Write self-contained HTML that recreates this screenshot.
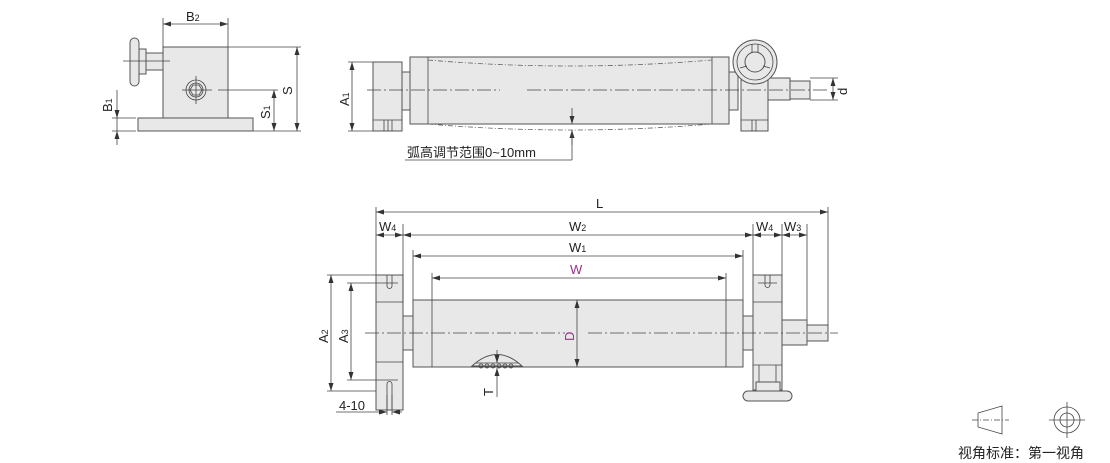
<!DOCTYPE html>
<html><head><meta charset="utf-8"><style>
body{margin:0;background:#fff;}
svg{display:block;}
text{font-family:"Liberation Sans","Noto Sans CJK SC",sans-serif;fill:#222;}
.s{fill:#e8e8e8;stroke:#555;stroke-width:1;}
.l{stroke:#444;stroke-width:0.8;fill:none;}
.c{stroke:#444;stroke-width:0.8;fill:none;stroke-dasharray:14,3,2,3;}
.d{stroke:#666;stroke-width:0.8;fill:none;stroke-dasharray:5,2,1,2;}
</style></head><body>
<svg width="1110" height="463" viewBox="0 0 1110 463" xmlns="http://www.w3.org/2000/svg">
<defs>
<marker id="a" markerWidth="8" markerHeight="6" refX="8" refY="3" orient="auto-start-reverse" markerUnits="userSpaceOnUse"><path d="M0,0.5 L8,3 L0,5.5z" fill="#333"/></marker>
</defs>
<!-- ===== Side view top-left ===== -->
<rect class="s" x="146" y="53" width="17" height="17"/>
<rect class="s" x="138" y="49" width="8" height="25"/>
<rect class="s" x="130" y="38" width="9" height="48" rx="4.5"/>
<rect class="s" x="163" y="47" width="65" height="72"/>
<rect class="s" x="138" y="118" width="115" height="13"/>
<line class="l" x1="123" y1="61" x2="170" y2="61"/>
<circle class="l" cx="196" cy="90" r="10"/>
<circle class="l" cx="196" cy="90" r="7"/>
<polygon class="l" points="202,90 199,95 193,95 190,90 193,85 199,85"/>
<line class="l" x1="182" y1="90" x2="212" y2="90"/><line class="l" x1="196" y1="76" x2="196" y2="104"/>
<line class="l" x1="218" y1="90" x2="278" y2="90"/>
<!-- B2 -->
<line class="l" x1="163" y1="47" x2="163" y2="18"/><line class="l" x1="228" y1="47" x2="228" y2="18"/>
<line class="l" x1="163" y1="24" x2="228" y2="24" marker-start="url(#a)" marker-end="url(#a)"/>
<text x="186" y="21" font-size="13">B<tspan font-size="9">2</tspan></text>
<!-- S -->
<line class="l" x1="228" y1="47" x2="301" y2="47"/><line class="l" x1="253" y1="131" x2="301" y2="131"/>
<line class="l" x1="297" y1="47" x2="297" y2="131" marker-start="url(#a)" marker-end="url(#a)"/>
<text transform="translate(292,95) rotate(-90)" font-size="13">S</text>
<!-- S1 -->
<line class="l" x1="274" y1="90" x2="274" y2="131" marker-start="url(#a)" marker-end="url(#a)"/>
<text transform="translate(270,119) rotate(-90)" font-size="13">S<tspan font-size="9">1</tspan></text>
<!-- B1 -->
<line class="l" x1="112" y1="118" x2="136" y2="118"/><line class="l" x1="112" y1="131" x2="136" y2="131"/>
<line class="l" x1="117" y1="90" x2="117" y2="118" marker-end="url(#a)"/>
<line class="l" x1="117" y1="145" x2="117" y2="131" marker-end="url(#a)"/>
<line class="l" x1="117" y1="118" x2="117" y2="131"/>
<text transform="translate(112,112) rotate(-90)" font-size="13">B<tspan font-size="9">1</tspan></text>
<!-- ===== Top middle view ===== -->
<rect class="s" x="373" y="62" width="29" height="69"/>
<line class="l" x1="373" y1="120" x2="402" y2="120"/>
<line class="l" x1="384" y1="120" x2="384" y2="131"/><line class="l" x1="388" y1="120" x2="388" y2="131"/><line class="l" x1="392" y1="120" x2="392" y2="131"/>
<rect class="s" x="402" y="72" width="8" height="38"/>
<rect class="s" x="410" y="57" width="319" height="67"/>
<line class="l" x1="428" y1="57" x2="428" y2="124"/><line class="l" x1="712" y1="57" x2="712" y2="124"/>
<path class="d" d="M428,60 Q570,72 712,60"/>
<path class="d" d="M428,124 Q570,136 712,124"/>
<rect class="s" x="729" y="72" width="9" height="38"/>
<rect class="s" x="741" y="80" width="27" height="51"/>
<line class="l" x1="741" y1="120" x2="768" y2="120"/>
<line class="l" x1="752" y1="120" x2="752" y2="131"/><line class="l" x1="756" y1="120" x2="756" y2="131"/>
<rect class="s" x="768" y="78" width="22" height="22"/>
<rect class="s" x="790" y="81" width="20" height="18"/>
<circle class="s" cx="755" cy="62" r="22"/>
<circle class="l" cx="755" cy="62" r="18"/>
<circle class="s" cx="755" cy="62" r="10"/>
<line class="l" x1="752" y1="44" x2="752" y2="53"/><line class="l" x1="758" y1="44" x2="758" y2="53"/>
<line class="l" x1="740" y1="68" x2="747" y2="66"/><line class="l" x1="770" y1="68" x2="763" y2="66"/>
<line class="c" x1="367" y1="90" x2="500" y2="90"/>
<line class="c" x1="527" y1="90" x2="830" y2="90"/>
<!-- A1 -->
<line class="l" x1="348" y1="62" x2="373" y2="62"/><line class="l" x1="348" y1="131" x2="373" y2="131"/>
<line class="l" x1="352" y1="62" x2="352" y2="131" marker-start="url(#a)" marker-end="url(#a)"/>
<text transform="translate(349,106) rotate(-90)" font-size="13">A<tspan font-size="9">1</tspan></text>
<!-- d -->
<line class="l" x1="810" y1="78" x2="838" y2="78"/><line class="l" x1="810" y1="100" x2="838" y2="100"/>
<line class="l" x1="833" y1="78" x2="833" y2="100" marker-start="url(#a)" marker-end="url(#a)"/>
<text transform="translate(847,95) rotate(-90)" font-size="13">d</text>
<!-- arc range -->
<line class="l" x1="572" y1="108" x2="572" y2="124" marker-end="url(#a)"/>
<line class="l" x1="572" y1="145" x2="572" y2="130" marker-end="url(#a)"/>
<line class="l" x1="572" y1="130" x2="572" y2="160"/>
<line class="l" x1="405" y1="160" x2="572" y2="160"/>
<text x="407" y="157" font-size="13">弧高调节范围0~10mm</text>
<!-- ===== Bottom view ===== -->
<rect class="s" x="376" y="275" width="27" height="135"/>
<line class="l" x1="376" y1="302" x2="403" y2="302"/><line class="l" x1="376" y1="362" x2="403" y2="362"/>
<path class="l" d="M387,275 V286 A2.5,2.5 0 0 0 392,286 V275"/>
<path class="l" d="M387,410 V384 A2.5,2.5 0 0 1 392,384 V410"/>
<line class="l" x1="381" y1="283" x2="398" y2="283"/><line class="l" x1="381" y1="380" x2="398" y2="380"/>
<rect class="s" x="403" y="316" width="10" height="34"/>
<rect class="s" x="413" y="300" width="330" height="67"/>
<line class="l" x1="432" y1="300" x2="432" y2="367"/><line class="l" x1="726" y1="300" x2="726" y2="367"/>
<rect class="s" x="743" y="316" width="10" height="34"/>
<rect class="s" x="753" y="275" width="29" height="115"/>
<line class="l" x1="753" y1="302" x2="782" y2="302"/><line class="l" x1="753" y1="365" x2="782" y2="365"/>
<path class="l" d="M765,275 V285 A2.5,2.5 0 0 0 770,285 V275"/>
<line class="l" x1="758" y1="283" x2="777" y2="283"/>
<line class="l" x1="759" y1="365" x2="759" y2="384"/><line class="l" x1="776" y1="365" x2="776" y2="384"/>
<rect class="s" x="756" y="382" width="24" height="10"/>
<rect class="s" x="743" y="391" width="49" height="10" rx="5"/>
<rect class="s" x="782" y="320" width="25" height="25"/>
<rect class="s" x="807" y="325" width="21" height="16"/>
<line class="c" x1="365" y1="333" x2="565" y2="333"/>
<line class="c" x1="588" y1="333" x2="838" y2="333"/>
<!-- T mark -->
<path class="s" d="M472,366 Q497,343 522,366z"/>
<line class="l" x1="476" y1="363" x2="518" y2="363"/>
<g class="l"><circle cx="481" cy="366" r="2"/><circle cx="487" cy="366" r="2"/><circle cx="493" cy="366" r="2"/><circle cx="499" cy="366" r="2"/><circle cx="505" cy="366" r="2"/><circle cx="511" cy="366" r="2"/></g>
<line class="l" x1="497" y1="350" x2="497" y2="363" marker-end="url(#a)"/>
<line class="l" x1="497" y1="397" x2="497" y2="368" marker-end="url(#a)"/>
<text transform="translate(493,396) rotate(-90)" font-size="13">T</text>
<!-- D -->
<line class="l" x1="577" y1="300" x2="577" y2="367" marker-start="url(#a)" marker-end="url(#a)"/>
<text transform="translate(574,341) rotate(-90)" font-size="13" style="fill:#9b2f8c">D</text>
<!-- horizontal dims -->
<line class="l" x1="376" y1="275" x2="376" y2="207"/>
<line class="l" x1="828" y1="325" x2="828" y2="207"/>
<line class="l" x1="376" y1="212" x2="828" y2="212" marker-start="url(#a)" marker-end="url(#a)"/>
<text x="596" y="208" font-size="13">L</text>
<line class="l" x1="403" y1="302" x2="403" y2="224"/>
<line class="l" x1="753" y1="275" x2="753" y2="224"/>
<line class="l" x1="782" y1="275" x2="782" y2="224"/>
<line class="l" x1="807" y1="320" x2="807" y2="224"/>
<line class="l" x1="376" y1="235" x2="403" y2="235" marker-start="url(#a)" marker-end="url(#a)"/>
<line class="l" x1="403" y1="235" x2="753" y2="235" marker-start="url(#a)" marker-end="url(#a)"/>
<line class="l" x1="753" y1="235" x2="782" y2="235" marker-start="url(#a)" marker-end="url(#a)"/>
<line class="l" x1="782" y1="235" x2="807" y2="235" marker-start="url(#a)" marker-end="url(#a)"/>
<text x="379" y="231" font-size="13">W<tspan font-size="9">4</tspan></text>
<text x="569" y="231" font-size="13">W<tspan font-size="9">2</tspan></text>
<text x="756" y="231" font-size="13">W<tspan font-size="9">4</tspan></text>
<text x="784" y="231" font-size="13">W<tspan font-size="9">3</tspan></text>
<line class="l" x1="413" y1="300" x2="413" y2="250"/><line class="l" x1="743" y1="300" x2="743" y2="250"/>
<line class="l" x1="413" y1="256" x2="743" y2="256" marker-start="url(#a)" marker-end="url(#a)"/>
<text x="569" y="252" font-size="13">W<tspan font-size="9">1</tspan></text>
<line class="l" x1="432" y1="300" x2="432" y2="273"/><line class="l" x1="726" y1="300" x2="726" y2="273"/>
<line class="l" x1="432" y1="278" x2="726" y2="278" marker-start="url(#a)" marker-end="url(#a)"/>
<text x="570" y="274" font-size="13" style="fill:#9b2f8c">W</text>
<!-- A2 A3 -->
<line class="l" x1="327" y1="275" x2="376" y2="275"/><line class="l" x1="327" y1="391" x2="376" y2="391"/>
<line class="l" x1="331" y1="275" x2="331" y2="391" marker-start="url(#a)" marker-end="url(#a)"/>
<text transform="translate(328,343) rotate(-90)" font-size="13">A<tspan font-size="9">2</tspan></text>
<line class="l" x1="347" y1="283" x2="381" y2="283"/><line class="l" x1="347" y1="380" x2="381" y2="380"/>
<line class="l" x1="351" y1="283" x2="351" y2="380" marker-start="url(#a)" marker-end="url(#a)"/>
<text transform="translate(348,343) rotate(-90)" font-size="13">A<tspan font-size="9">3</tspan></text>
<!-- 4-10 -->
<line class="l" x1="387" y1="395" x2="387" y2="415"/><line class="l" x1="392" y1="395" x2="392" y2="415"/>
<line class="l" x1="336" y1="412" x2="387" y2="412" marker-end="url(#a)"/>
<line class="l" x1="402" y1="412" x2="392" y2="412" marker-end="url(#a)"/>
<text x="339" y="410" font-size="13">4-10</text>
<!-- projection symbol -->
<polygon class="l" points="978,413 1002,406 1002,434 978,427"/>
<line class="c" x1="972" y1="420" x2="1009" y2="420" style="stroke-dasharray:6,2,1,2"/>
<circle class="l" cx="1067" cy="420" r="13"/>
<circle class="l" cx="1067" cy="420" r="7"/>
<line class="l" x1="1049" y1="420" x2="1085" y2="420"/><line class="l" x1="1067" y1="402" x2="1067" y2="438"/>
<text x="958" y="458" font-size="14">视角标准：第一视角</text>
</svg>
</body></html>
